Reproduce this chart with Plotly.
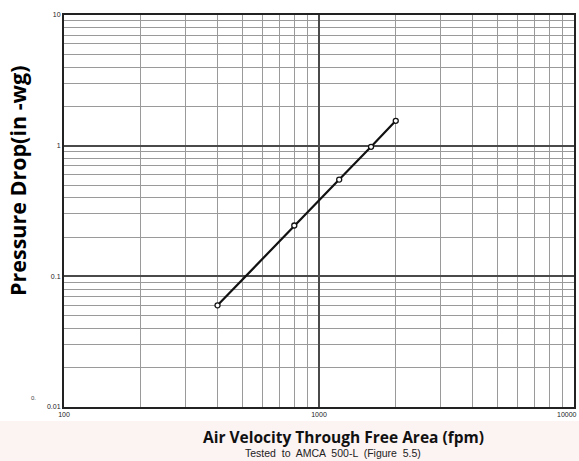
import plotly.graph_objects as go

velocity_fpm = [400, 800, 1200, 1600, 2000]
pressure_drop_inwg = [0.06, 0.245, 0.55, 0.98, 1.55]

x_ticks = [100, 1000, 10000]
x_tick_labels = ["100", "1000", "10000"]
y_ticks = [0.01, 0.1, 1, 10]
y_tick_labels = ["0.01", "0.1", "1", "10"]

x_minor = [k * 10 ** d for d in (2, 3) for k in range(2, 10)]
y_minor = [k * 10 ** d for d in (-2, -1, 0) for k in range(2, 10)]

W, H = 579, 461
ML, MR, MT, MB = 64, 5, 15, 54
PW, PH = W - ML - MR, H - MT - MB


def px_x(x):
    return (x - ML) / PW


def px_y(y):
    return (H - MB - y) / PH


fig = go.Figure()
fig.add_trace(go.Scatter(
    x=velocity_fpm, y=pressure_drop_inwg,
    mode="lines+markers",
    line=dict(color="#111111", width=2.2),
    marker=dict(symbol="circle", size=5, color="white",
                line=dict(color="#111111", width=1.3)),
    showlegend=False,
))

axis_common = dict(
    type="log",
    automargin=False,
    showgrid=True,
    gridcolor="#4a4a4a",
    gridwidth=2,
    showline=True,
    linecolor="#222222",
    linewidth=2,
    mirror=True,
    ticks="",
    zeroline=False,
    ticklabeloverflow="allow",
    tickfont=dict(family="Arial", size=7, color="#222222"),
)

# the last x label is drawn right-aligned so it stays inside the page
fig.update_xaxes(
    **axis_common,
    range=[2, 4],
    tickvals=x_ticks[:-1],
    ticktext=x_tick_labels[:-1],
    minor=dict(tickvals=x_minor, showgrid=True, gridcolor="#9a9a9a", gridwidth=1.3, ticks=""),
)
fig.update_yaxes(
    **axis_common,
    range=[-2, 1],
    tickvals=y_ticks,
    ticktext=y_tick_labels,
    minor=dict(tickvals=y_minor, showgrid=True, gridcolor="#9a9a9a", gridwidth=1.3, ticks=""),
)
fig.add_annotation(
    text=x_tick_labels[-1], xref="paper", yref="paper",
    x=px_x(W), y=px_y(H - MB + 2), xanchor="right", yanchor="top",
    showarrow=False, font=dict(family="Arial", size=7, color="#222222"),
)

fig.add_shape(type="rect", xref="paper", yref="paper",
              x0=px_x(-5), x1=px_x(W + 5), y0=px_y(H + 5), y1=px_y(421),
              fillcolor="#fcf3f3", line=dict(width=0), layer="below")

fig.add_annotation(
    text="<b>Air Velocity Through Free Area (fpm)</b>",
    xref="paper", yref="paper", x=px_x(343), y=px_y(437),
    xanchor="center", yanchor="middle", showarrow=False,
    font=dict(family="Open Sans", size=15.5, color="#111111"),
)
fig.add_annotation(
    text="<b>Pressure Drop(in -wg)</b>",
    xref="paper", yref="paper", x=px_x(17), y=px_y(181),
    xanchor="center", yanchor="middle", showarrow=False, textangle=-90,
    font=dict(family="Open Sans", size=21.5, color="#000000"),
)
fig.add_annotation(
    text="Tested  to  AMCA  500-L  (Figure  5.5)",
    xref="paper", yref="paper", x=px_x(333), y=px_y(453),
    xanchor="center", yanchor="middle", showarrow=False,
    font=dict(family="Arial", size=10.5, color="#222222"),
)
fig.add_annotation(
    text="0.",
    xref="paper", yref="paper", x=px_x(33), y=px_y(398),
    xanchor="center", yanchor="middle", showarrow=False,
    font=dict(family="Arial", size=6, color="#444444"),
)

fig.update_layout(
    width=W, height=H,
    margin=dict(l=ML, r=MR, t=MT, b=MB),
    paper_bgcolor="white",
    plot_bgcolor="white",
)

fig.write_html("out.html", config={"displayModeBar": False},
               post_script="document.body.style.margin='0';")
